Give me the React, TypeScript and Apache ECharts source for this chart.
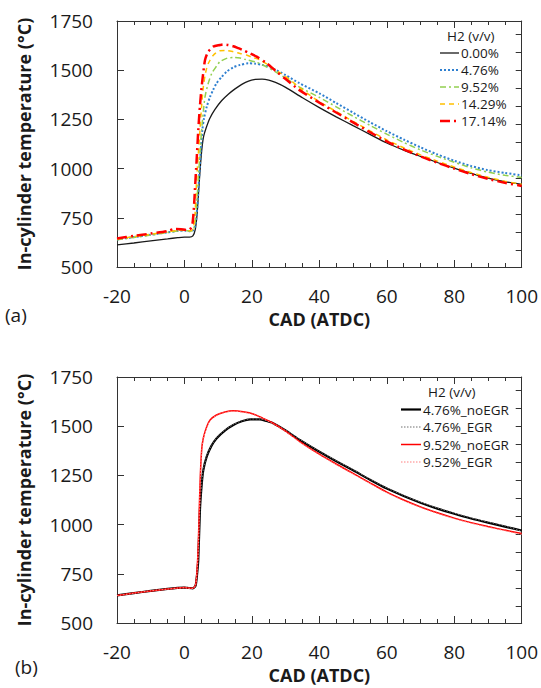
import React, { useEffect, useRef } from "react";
import * as echarts from "echarts";

// ---- Data (CAD in degrees ATDC, temperature in °C) ----
const topNames = ["0.00%", "4.76%", "9.52%", "14.29%", "17.14%"];
const bottomNames = ["4.76%_noEGR", "4.76%_EGR", "9.52%_noEGR", "9.52%_EGR"];
const legendTitle = "H2 (v/v)";
const xName = "CAD (ATDC)";
const yName = "In-cylinder temperature (°C)";
const panelLabels = ["(a)", "(b)"];

// right-hand axis tick marks (secondary scale, unlabeled), in °C units of the plot
const rightTicks = [586, 677.5, 769, 860.5, 952, 1043.5, 1135, 1226.5, 1318, 1409.5, 1501, 1592.5, 1684];

const h0 = [[-20, 612], [-15, 622], [-10, 633], [-5, 643], [-2, 649], [0, 652], [1.5, 652], [2.5, 658], [3.2, 690], [3.7, 760], [4.1, 857], [4.5, 960], [4.9, 1050], [5.3, 1120], [5.7, 1165], [6.5, 1210], [7.5, 1255], [9, 1300], [11, 1345], [13, 1378], [15, 1405], [17, 1428], [19, 1445], [21, 1453], [23, 1455], [25, 1450], [27, 1438], [30, 1413], [35, 1360], [40, 1310], [45, 1263], [50, 1218], [55, 1174], [60, 1130], [65, 1094], [70, 1062], [75, 1031], [80, 1002], [85, 976], [90, 952], [95, 934], [100, 920]];
const h476 = [[-20, 640], [-15, 652], [-10, 664], [-5, 676], [-2, 683], [0, 686], [1.5, 682], [2.5, 685], [3.2, 710], [3.8, 800], [4.3, 942], [4.8, 1080], [5.3, 1196], [5.8, 1255], [6.6, 1314], [7.6, 1365], [8.5, 1400], [9.5, 1433], [11, 1465], [12.5, 1492], [14.5, 1515], [16.5, 1527], [19, 1535], [21, 1533], [23, 1527], [26, 1511], [30, 1475], [34, 1435], [40, 1382], [45, 1333], [50, 1284], [55, 1236], [60, 1190], [65, 1148], [70, 1108], [75, 1072], [80, 1040], [85, 1013], [90, 992], [95, 978], [100, 966]];
const h952 = [[-20, 638], [-15, 650], [-10, 662], [-5, 675], [-2, 683], [0, 686], [1.5, 682], [2.5, 686], [3.1, 720], [3.6, 820], [4.1, 942], [4.6, 1080], [5.1, 1196], [5.6, 1290], [6.1, 1365], [7, 1430], [8.1, 1484], [9.5, 1520], [10.5, 1543], [12.5, 1560], [14.5, 1565], [16.5, 1562], [18, 1555], [21.4, 1540], [24, 1520], [27, 1492], [30, 1460], [34, 1415], [40, 1362], [45, 1314], [50, 1266], [55, 1220], [60, 1175], [65, 1133], [70, 1095], [75, 1062], [80, 1032], [85, 1004], [90, 982], [95, 966], [100, 955]];
const h1429 = [[-20, 642], [-15, 654], [-10, 666], [-5, 679], [-2, 686], [0, 688], [1.5, 684], [2.5, 692], [3.1, 760], [3.6, 942], [4.1, 1070], [4.6, 1196], [5.1, 1320], [5.6, 1416], [6.3, 1490], [7.1, 1535], [8.5, 1575], [10.5, 1599], [12.5, 1600], [14.5, 1594], [16.5, 1585], [18.4, 1577], [20, 1566], [22.4, 1552], [25, 1525], [28, 1490], [31, 1455], [35, 1400], [40, 1340], [45, 1290], [50, 1240], [55, 1192], [60, 1146], [65, 1106], [70, 1070], [75, 1038], [80, 1008], [85, 980], [90, 956], [95, 936], [100, 920]];
const h1714 = [[-20, 645], [-15, 658], [-10, 670], [-5, 683], [-3, 693], [-1, 692], [0.5, 688], [1.5, 690], [2, 700], [2.4, 722], [2.8, 800], [3.1, 891], [3.6, 1040], [4.1, 1196], [4.6, 1320], [5.1, 1416], [5.6, 1490], [6.1, 1552], [6.9, 1590], [7.6, 1605], [8.5, 1620], [10.5, 1628], [11.5, 1631], [13, 1628], [14.5, 1622], [16, 1612], [17.4, 1602], [19.5, 1585], [21.4, 1569], [24.4, 1535], [27, 1497], [30, 1455], [34, 1400], [40, 1335], [45, 1285], [50, 1235], [55, 1185], [60, 1138], [65, 1098], [70, 1062], [75, 1030], [80, 1000], [85, 972], [90, 948], [95, 928], [100, 912]];

const b476no = [[-20, 640], [-15, 652], [-10, 663], [-5, 673], [-2, 678], [0, 680], [1, 678], [2.5, 676], [3.3, 690], [3.7, 740], [4.1, 820], [4.6, 1074], [5.1, 1200], [5.6, 1277], [6.6, 1345], [8, 1400], [9.5, 1438], [12, 1478], [14.5, 1506], [17, 1525], [19.5, 1535], [22.4, 1535], [24, 1528], [26.3, 1515], [30, 1478], [34.2, 1430], [40, 1370], [45, 1322], [50, 1276], [55, 1228], [60, 1183], [65, 1145], [70, 1111], [75, 1081], [80, 1055], [85, 1031], [90, 1010], [95, 990], [100, 970]];
const b476egr = [[-20, 641], [-15, 653], [-10, 662], [-5, 674], [-2, 679], [0, 681], [1, 677], [2.5, 677], [3.3, 692], [3.7, 745], [4.1, 830], [4.6, 1080], [5.1, 1205], [5.6, 1280], [6.6, 1348], [8, 1402], [9.5, 1440], [12, 1480], [14.5, 1508], [17, 1527], [19.5, 1537], [22.4, 1536], [24, 1530], [26.3, 1517], [30, 1480], [34.2, 1433], [40, 1373], [45, 1325], [50, 1279], [55, 1231], [60, 1186], [65, 1148], [70, 1114], [75, 1084], [80, 1058], [85, 1034], [90, 1013], [95, 993], [100, 966]];
const b952no = [[-20, 640], [-15, 652], [-10, 663], [-5, 673], [-2, 678], [0, 680], [1, 678], [2.5, 676], [3.3, 695], [3.7, 760], [4.1, 900], [4.6, 1200], [5.1, 1379], [5.6, 1440], [6.6, 1497], [7.6, 1531], [9.5, 1557], [12, 1572], [14.5, 1578], [17.4, 1573], [20.4, 1562], [23.3, 1540], [26.3, 1515], [30, 1475], [34.2, 1422], [40, 1358], [45, 1308], [50, 1260], [55, 1212], [60, 1165], [65, 1125], [70, 1090], [75, 1060], [80, 1033], [85, 1010], [90, 990], [95, 972], [100, 955]];
const b952egr = [[-20, 639], [-15, 651], [-10, 664], [-5, 672], [-2, 677], [0, 679], [1, 677], [2.5, 675], [3.3, 693], [3.7, 755], [4.1, 890], [4.6, 1190], [5.1, 1372], [5.6, 1436], [6.6, 1494], [7.6, 1528], [9.5, 1555], [12, 1570], [14.5, 1576], [17.4, 1571], [20.4, 1560], [23.3, 1538], [26.3, 1512], [30, 1472], [34.2, 1419], [40, 1355], [45, 1305], [50, 1257], [55, 1209], [60, 1162], [65, 1122], [70, 1087], [75, 1057], [80, 1030], [85, 1007], [90, 987], [95, 969], [100, 950]];

const FONT = "'Open Sans', 'Noto Sans', sans-serif";
const AXIS_COLOR = "#333333";
const TEXT_COLOR = "#1a1a1a";

const topStyles: [string, number, number[] | null][] = [
  ["#1a1a1a", 1.3, null],
  ["#2e7fd0", 2, [2, 2]],
  ["#92d050", 1.5, [6, 3, 2, 3]],
  ["#ffc000", 1.5, [5, 4]],
  ["#ff0000", 2.5, [10, 4, 2, 4]],
];
const bottomStyles: [string, number, number[] | null][] = [
  ["#000000", 2.2, null],
  ["#6e6e6e", 1, [1.5, 1.5]],
  ["#ff0000", 1.5, null],
  ["#ff7f7f", 1, [1.5, 1.5]],
];

export default function App() {
  const ref = useRef<HTMLDivElement>(null);

  useEffect(() => {
    if (!ref.current) return;
    const chart = echarts.init(ref.current, null, { renderer: "svg" });

    const grids = [
      { left: 117, top: 21, width: 405, height: 246 },
      { left: 117, top: 377, width: 405, height: 246 },
    ];

    const xAxes: any[] = [];
    const yAxes: any[] = [];
    grids.forEach((_, gi) => {
      xAxes.push({
        type: "value", gridIndex: gi, position: "bottom", min: -20, max: 100, interval: 20,
        name: xName, nameLocation: "middle", nameGap: 43,
        nameTextStyle: { fontFamily: FONT, fontSize: 18, fontWeight: "bold", color: TEXT_COLOR },
        axisLine: { show: true, onZero: false, lineStyle: { color: AXIS_COLOR, width: 1 } },
        axisTick: { show: true, inside: true, length: 7, lineStyle: { color: AXIS_COLOR } },
        minorTick: { show: true, splitNumber: 4, length: 4, lineStyle: { color: AXIS_COLOR } },
        axisLabel: { fontFamily: FONT, fontSize: 19, color: TEXT_COLOR, margin: 19, formatter: (v: number) => String(v) },
        splitLine: { show: false },
      });
      xAxes.push({
        type: "value", gridIndex: gi, position: "top", min: -20, max: 100, interval: 20,
        axisLine: { show: true, onZero: false, lineStyle: { color: AXIS_COLOR, width: 1 } },
        axisTick: { show: true, inside: true, length: 7, lineStyle: { color: AXIS_COLOR } },
        minorTick: { show: true, splitNumber: 4, length: 4, lineStyle: { color: AXIS_COLOR } },
        axisLabel: { show: false },
        splitLine: { show: false },
      });
      yAxes.push({
        type: "value", gridIndex: gi, position: "left", min: 500, max: 1750, interval: 250,
        name: yName, nameLocation: "middle", nameGap: 84,
        nameTextStyle: { fontFamily: FONT, fontSize: 18, fontWeight: "bold", color: TEXT_COLOR },
        axisLine: { show: true, onZero: false, lineStyle: { color: AXIS_COLOR, width: 1 } },
        axisTick: { show: true, inside: true, length: 7, lineStyle: { color: AXIS_COLOR } },
        axisLabel: { fontFamily: FONT, fontSize: 19, color: TEXT_COLOR, margin: 24, formatter: (v: number) => String(v) },
        splitLine: { show: false },
      });
      yAxes.push({
        type: "value", gridIndex: gi, position: "right", min: 500, max: 1750,
        axisLine: { show: true, onZero: false, lineStyle: { color: AXIS_COLOR, width: 1 } },
        axisTick: { show: true, inside: true, length: 6, customValues: rightTicks, lineStyle: { color: AXIS_COLOR } },
        axisLabel: { show: false },
        splitLine: { show: false },
      });
    });

    const mk = (name: string, data: number[][], gi: number, st: [string, number, number[] | null]) => ({
      name, type: "line", data,
      xAxisIndex: gi * 2, yAxisIndex: gi * 2,
      showSymbol: false, symbol: "none", smooth: 0.25,
      lineStyle: { color: st[0], width: st[1], type: st[2] ?? "solid" },
      itemStyle: { color: st[0] },
    });

    const topData = [h0, h476, h952, h1429, h1714];
    const bottomData = [b476no, b476egr, b952no, b952egr];

    const series: any[] = [];
    topNames.forEach((n, i) => series.push(mk(n, topData[i], 0, topStyles[i])));
    bottomNames.forEach((n, i) => series.push(mk(n, bottomData[i], 1, bottomStyles[i])));

    // legend drawn as graphics (line samples + texts)
    const graphic: any[] = [];
    const addLegend = (names: string[], styles: [string, number, number[] | null][], titleX: number, titleY: number,
      lineX: number, lineW: number, rowY: number, rowH: number) => {
      graphic.push({ type: "text", x: titleX, y: titleY, style: { text: legendTitle, font: `13.5px ${FONT}`, fill: TEXT_COLOR, align: "left", verticalAlign: "middle" } });
      names.forEach((n, i) => {
        const y = rowY + i * rowH;
        const st = styles[i];
        graphic.push({ type: "line", shape: { x1: lineX, y1: y, x2: lineX + lineW, y2: y }, style: { stroke: st[0], lineWidth: st[1], lineDash: st[2] ?? null } });
        graphic.push({ type: "text", x: lineX + lineW + 2, y, style: { text: n, font: `13.5px ${FONT}`, fill: TEXT_COLOR, align: "left", verticalAlign: "middle" } });
      });
    };
    addLegend(topNames, topStyles, 447, 36, 440, 19, 53, 17);
    addLegend(bottomNames, bottomStyles, 428, 392, 401, 20, 409.5, 17.5);

    graphic.push({ type: "text", x: 5, y: 315, style: { text: panelLabels[0], font: `19px ${FONT}`, fill: TEXT_COLOR, align: "left", verticalAlign: "middle" } });
    graphic.push({ type: "text", x: 15, y: 667, style: { text: panelLabels[1], font: `19px ${FONT}`, fill: TEXT_COLOR, align: "left", verticalAlign: "middle" } });

    chart.setOption({
      animation: false,
      backgroundColor: "#ffffff",
      grid: grids,
      xAxis: xAxes,
      yAxis: yAxes,
      graphic,
      series,
    });

    return () => chart.dispose();
  }, []);

  return <div ref={ref} style={{ width: 541, height: 688, position: "absolute", left: 0, top: 0 }} />;
}
